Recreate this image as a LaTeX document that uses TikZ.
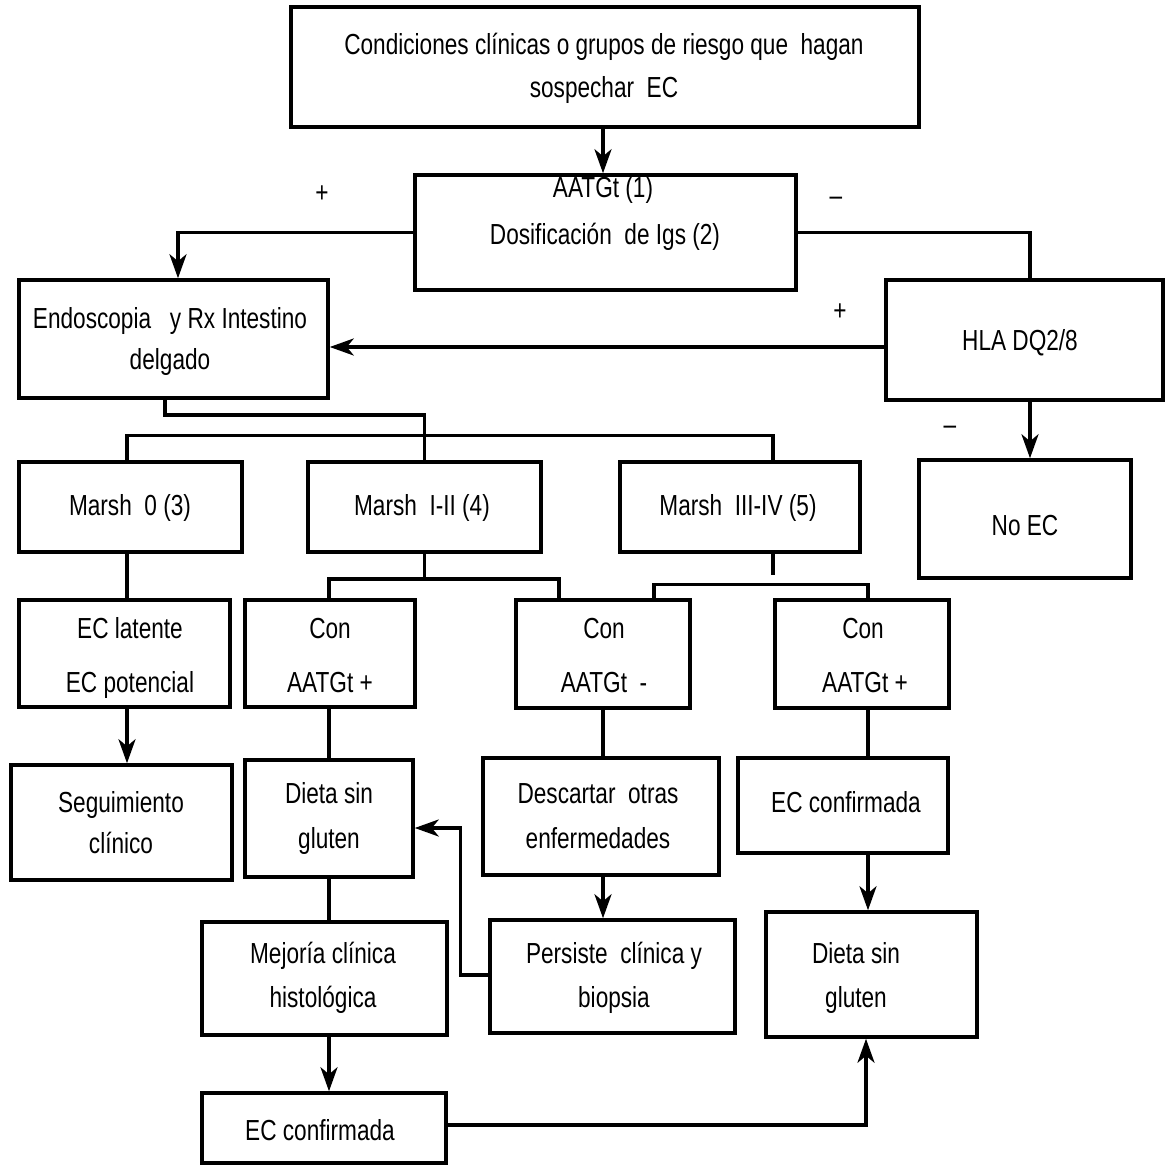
\documentclass[tikz,border=0pt]{standalone}
\usepackage{fontspec}
\setmainfont{Liberation Sans}[FakeStretch=0.78]
\usetikzlibrary{arrows.meta}
\begin{document}
\begin{tikzpicture}[x=1pt,y=-1pt,
  box/.style={draw, line width=3.5pt, inner sep=0pt, fill=none},
  conn/.style={line width=3.5pt},
  arr/.style={line width=3.5pt,-{Stealth[length=24pt,width=17pt,inset=7pt]}},
  txt/.style={font=\fontsize{29}{34}\selectfont, anchor=base, inner sep=0pt}]
\useasboundingbox[fill=white] (0,0) rectangle (1170,1166);

% boxes
\node[box, minimum width=628pt, minimum height=120pt] (top) at (605,67) {};
\node[box, minimum width=381pt, minimum height=115pt] (aat) at (605.5,232.5) {};
\node[box, minimum width=309pt, minimum height=118pt] (endo) at (173.5,339) {};
\node[box, minimum width=277pt, minimum height=120pt] (hla) at (1024.5,340) {};
\node[box, minimum width=212pt, minimum height=118pt] (noec) at (1025,519) {};
\node[box, minimum width=223pt, minimum height=90pt] (m0) at (130.5,507) {};
\node[box, minimum width=233pt, minimum height=90pt] (m12) at (424.5,507) {};
\node[box, minimum width=240pt, minimum height=90pt] (m34) at (740,507) {};
\node[box, minimum width=211pt, minimum height=107pt] (lat) at (124.5,653.5) {};
\node[box, minimum width=170pt, minimum height=107pt] (conA) at (330,653.5) {};
\node[box, minimum width=174pt, minimum height=108pt] (conB) at (603,654) {};
\node[box, minimum width=174pt, minimum height=108pt] (conC) at (862,654) {};
\node[box, minimum width=221pt, minimum height=115pt] (seg) at (121.5,822.5) {};
\node[box, minimum width=168pt, minimum height=117pt] (dietaL) at (329,818.5) {};
\node[box, minimum width=236pt, minimum height=117pt] (desc) at (601,816.5) {};
\node[box, minimum width=210pt, minimum height=95pt] (ecc) at (843,805.5) {};
\node[box, minimum width=245pt, minimum height=113pt] (mej) at (324.5,978.5) {};
\node[box, minimum width=245pt, minimum height=113pt] (pers) at (612.5,976.5) {};
\node[box, minimum width=211pt, minimum height=125pt] (dietaR) at (871.5,974.5) {};
\node[box, minimum width=244pt, minimum height=70pt] (ecb) at (324,1128) {};

% texts
\node[txt] (t1) at (604,55) {Condiciones clínicas o grupos de riesgo que\ \ hagan};
\node[txt] (t2) at (604,98) {sospechar\ \ EC};
\node[txt] (t3) at (603,198) {AATGt (1)};
\node[txt] (t4) at (605,245) {Dosificación\ \ de Igs (2)};
\node[txt] (p1) at (322,203) {+};
\node[txt] (n1) at (836,206) {–};
\node[txt] (p2) at (840,320) {+};
\node[txt] (n2) at (950,434) {–};
\node[txt] (t5) at (170,328) {Endoscopia\ \ \ y Rx Intestino};
\node[txt] (t6) at (170,370) {delgado};
\node[txt] (t7) at (1020,350) {HLA DQ2/8};
\node[txt] (t8) at (1025,535) {No EC};
\node[txt] (t9) at (130,515) {Marsh\ \ 0 (3)};
\node[txt] (t10) at (422,515) {Marsh\ \ I-II (4)};
\node[txt] (t11) at (738,515) {Marsh\ \ III-IV (5)};
\node[txt] (t12) at (130,638) {EC latente};
\node[txt] (t13) at (130,692) {EC potencial};
\node[txt] (t14) at (330,638) {Con};
\node[txt] (t15) at (330,692) {AATGt +};
\node[txt] (t16) at (604,638) {Con};
\node[txt] (t17) at (604,692) {AATGt\ \ -};
\node[txt] (t18) at (863,638) {Con};
\node[txt] (t19) at (865,692) {AATGt +};
\node[txt] (t20) at (121,812) {Seguimiento};
\node[txt] (t21) at (121,853) {clínico};
\node[txt] (t22) at (329,803) {Dieta sin};
\node[txt] (t23) at (329,848) {gluten};
\node[txt] (t24) at (598,803) {Descartar\ \ otras};
\node[txt] (t25) at (598,848) {enfermedades};
\node[txt] (t26) at (846,812) {EC confirmada};
\node[txt] (t27) at (323,963) {Mejoría clínica};
\node[txt] (t28) at (323,1007) {histológica};
\node[txt] (t29) at (614,963) {Persiste\ \ clínica y};
\node[txt] (t30) at (614,1007) {biopsia};
\node[txt] (t31) at (856,963) {Dieta sin};
\node[txt] (t32) at (856,1007) {gluten};
\node[txt] (t33) at (320,1140) {EC confirmada};

% connectors
\draw[arr] ([xshift=-2]top.south) -- ([xshift=-2.5]aat.north);
\draw[arr] (aat.west) -| ([xshift=4.5]endo.north);
\draw[conn] (aat.east) -| ([xshift=5.5]hla.north);
\draw[arr] ([yshift=-7]hla.west) -- ([yshift=-8]endo.east);
\draw[arr] ([xshift=5.5]hla.south) -- ([xshift=5]noec.north);
\draw[conn] ([xshift=-8.5]endo.south) -- ++(0,15) -| (m12.north);
\draw[conn] ([xshift=-3.5]m0.north) -- ++(0,-25) -| ([xshift=33]m34.north);
\draw[conn] ([xshift=-3.5]m0.south) -- ([xshift=2.5]lat.north);
\draw[arr] ([xshift=2.5]lat.south) -- ([xshift=5.5]seg.north);
\draw[conn] (m12.south) -- ++(0,25) coordinate (j1);
\draw[conn] (j1) -| ([xshift=-1]conA.north);
\draw[conn] (j1) -| ([xshift=-44]conB.north);
\draw[conn] ([xshift=33]m34.south) -- ++(0,21) coordinate (j2);
\draw[conn] ([xshift=51]conB.north) -- ++(0,-14) -| ([xshift=6]conC.north);
\draw[conn] ([xshift=-1]conA.south) -- (dietaL.north);
\draw[conn] (conB.south) -- ([xshift=2]desc.north);
\draw[conn] ([xshift=6]conC.south) -- ([xshift=25]ecc.north);
\draw[arr] ([xshift=2]desc.south) -- ([xshift=-9.5]pers.north);
\draw[arr] ([xshift=25]ecc.south) -- ([xshift=-3.5]dietaR.north);
\draw[conn] (dietaL.south) -- ([xshift=4.5]mej.north);
\draw[arr] ([xshift=4.5]mej.south) -- ([xshift=5]ecb.north);
\draw[arr] ([yshift=1.5]pers.west) -- ++(-28,0) |- ([yshift=-9.5]dietaL.east);
\draw[arr] ([yshift=3]ecb.east) -| ([xshift=-5.5]dietaR.south);
\end{tikzpicture}
\end{document}
